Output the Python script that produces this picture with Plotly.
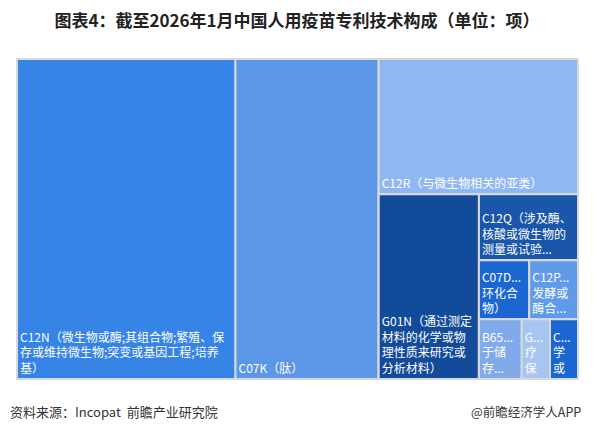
import plotly.graph_objects as go

codes = ["C12N", "C07K", "C12R", "G01N", "C12Q", "C07D", "C12P", "B65D", "G16H", "C40B"]
counts = [3890, 2550, 1500, 1030, 364, 165, 160, 142, 94, 93]
label_text = [
    "C12N（微生物或酶;其组合物;繁殖、保<br>存或维持微生物;突变或基因工程;培养<br>基）",
    "C07K（肽）",
    "C12R（与微生物相关的亚类）",
    "G01N（通过测定<br>材料的化学或物<br>理性质来研究或<br>分析材料）",
    "C12Q（涉及酶、<br>核酸或微生物的<br>测量或试验...",
    "C07D...<br>环化合<br>物）",
    "C12P...<br>发酵或<br>酶合...",
    "B65...<br>于储<br>存...",
    "G...<br>疗<br>保",
    "C...<br>学<br>或",
]
leaf_colors = ["#3584E6", "#5B97E6", "#8FB8F2", "#134B9B", "#1A56AA",
               "#1C66D2", "#5F9BE9", "#80AAE9", "#A6C5F1", "#1C66D2"]
leaf_parents = ["root", "root", "g1", "g2", "g3", "g4", "g4", "g5", "g5", "g5"]

# invisible grouping nodes, only used to get the same row/column split
group_ids = ["root", "g1", "g2", "g3", "g4", "g5"]
group_parents = ["", "root", "g1", "g2", "g3", "g3"]

# order of the root's children: C12N, C07K, then the rest
ids = ["root", "C12N", "C07K", "g1", "C12R", "g2", "G01N", "g3",
       "C12Q", "g4", "C07D", "C12P", "g5", "B65D", "G16H", "C40B"]

leaf = {c: (v, t, col, p) for c, v, t, col, p in zip(codes, counts, label_text, leaf_colors, leaf_parents)}
grp = dict(zip(group_ids, group_parents))

parents, values, texts, colors = [], [], [], []
for i in ids:
    if i in leaf:
        v, t, col, p = leaf[i]
        parents.append(p)
        values.append(v)
        texts.append(t)
        colors.append(col)
    else:
        parents.append(grp[i])
        values.append(0)
        texts.append("")
        colors.append("#D9D9D9")

fig = go.Figure(go.Treemap(
    ids=ids,
    labels=ids,
    parents=parents,
    values=values,
    branchvalues="remainder",
    text=texts,
    texttemplate="%{text}",
    textposition="bottom left",
    textfont=dict(family="Noto Sans CJK SC", size=12, color="white"),
    sort=False,
    marker=dict(colors=colors, line=dict(color="#D9D9D9", width=2),
                pad=dict(t=0, l=0, r=0, b=0)),
    tiling=dict(packing="slice-dice", pad=0),
    pathbar=dict(visible=False),
    hoverinfo="skip",
))

# page body has an 8px margin, so the figure is kept inside the window
fig.update_layout(
    width=586, height=417,
    margin=dict(l=9, r=16, t=51, b=46),
    paper_bgcolor="white",
    uniformtext=dict(minsize=12, mode="show"),
    title=dict(
        text="<b>图表4：截至2026年1月中国人用疫苗专利技术构成（单位：项）</b>",
        x=(297 - 8) / 586, xref="container", xanchor="center",
        y=1 - 13 / 417, yref="container", yanchor="middle",
        font=dict(family="Noto Sans CJK SC", size=17, color="#222222"),
    ),
    font=dict(family="Noto Sans CJK SC"),
)

fig.add_annotation(
    text="资料来源：Incopat  前瞻产业研究院",
    xref="paper", yref="paper", x=-0.016, y=-0.1,
    xanchor="left", yanchor="middle", showarrow=False,
    font=dict(family="Noto Sans CJK SC", size=13, color="#333333"),
)
fig.add_annotation(
    text="@前瞻经济学人APP",
    xref="paper", yref="paper", x=1.0, y=-0.1,
    xanchor="right", yanchor="middle", showarrow=False, xshift=5,
    font=dict(family="Noto Sans CJK SC", size=12.5, color="#333333"),
)

fig.write_html("out.html")
